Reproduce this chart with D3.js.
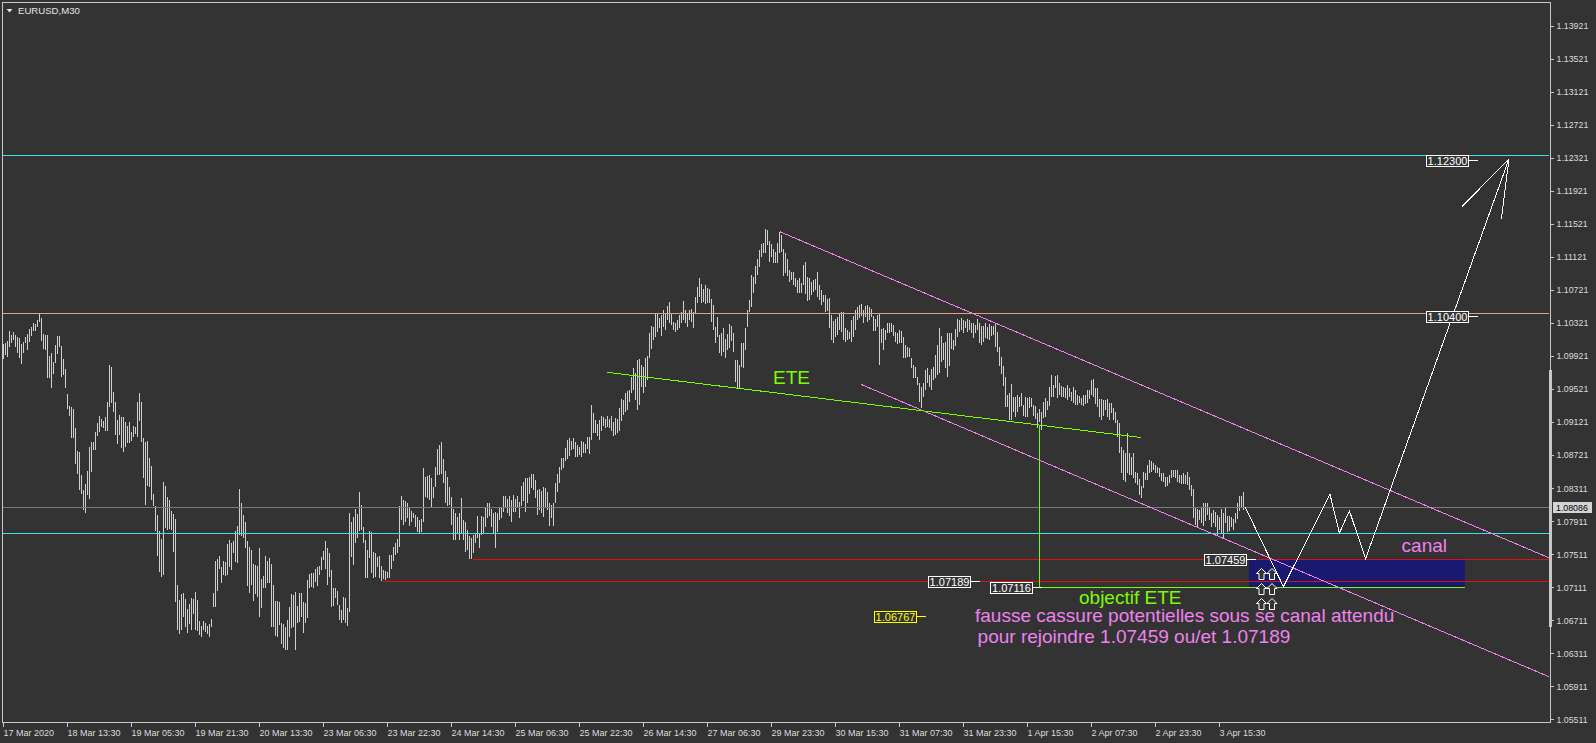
<!DOCTYPE html>
<html><head><meta charset="utf-8">
<script src="https://cdn.jsdelivr.net/npm/d3@7"></script>
<style>
html,body{margin:0;padding:0;background:#333333;overflow:hidden}
svg{display:block}
</style></head><body>
<svg id="c" width="1596" height="743"></svg>
<script>
// ---------------- DATA (EURUSD M30) ----------------
const symbolTitle = "EURUSD,M30";
const highs = [
1.1006,1.1008,1.1010,1.1022,1.1017,1.1021,1.1017,1.1015,1.1014,1.1006,1.1009,1.1015,1.1018,1.1025,1.1027,1.1032,1.1031,1.1035,1.1044,1.1038,
1.1018,1.1017,1.1017,1.0992,1.0995,1.0984,1.1005,1.1016,1.1016,1.1004,1.0988,1.0976,1.0946,1.0931,1.0930,1.0928,1.0904,1.0876,1.0875,1.0847,
1.0829,1.0836,1.0852,1.0881,1.0887,1.0887,1.0900,1.0910,1.0919,1.0915,1.0913,1.0918,1.0936,1.0981,1.0978,1.0948,1.0936,1.0914,1.0920,1.0918,
1.0918,1.0912,1.0907,1.0912,1.0900,1.0907,1.0906,1.0936,1.0947,1.0936,1.0892,1.0887,1.0889,1.0868,1.0858,1.0825,1.0810,1.0799,1.0779,1.0770,
1.0839,1.0834,1.0821,1.0817,1.0804,1.0800,1.0794,1.0714,1.0696,1.0703,1.0704,1.0697,1.0685,1.0691,1.0698,1.0697,1.0705,1.0696,1.0670,1.0664,
1.0670,1.0668,1.0664,1.0667,1.0673,1.0704,1.0743,1.0745,1.0749,1.0736,1.0743,1.0742,1.0764,1.0768,1.0765,1.0767,1.0779,1.0785,1.0830,1.0813,
1.0799,1.0790,1.0767,1.0760,1.0756,1.0739,1.0738,1.0737,1.0759,1.0721,1.0725,1.0749,1.0743,1.0747,1.0739,1.0714,1.0694,1.0694,1.0693,1.0668,
1.0667,1.0663,1.0671,1.0687,1.0703,1.0702,1.0705,1.0688,1.0704,1.0704,1.0693,1.0692,1.0720,1.0727,1.0728,1.0728,1.0733,1.0736,1.0737,1.0748,
1.0755,1.0767,1.0759,1.0753,1.0732,1.0710,1.0710,1.0707,1.0690,1.0684,1.0699,1.0698,1.0686,1.0801,1.0790,1.0796,1.0806,1.0800,1.0827,1.0811,
1.0784,1.0768,1.0756,1.0779,1.0778,1.0754,1.0753,1.0748,1.0749,1.0737,1.0732,1.0731,1.0730,1.0751,1.0751,1.0760,1.0765,1.0770,1.0810,
1.0822,1.0817,1.0816,1.0813,1.0809,1.0804,1.0801,1.0799,1.0796,1.0793,1.0794,1.0856,1.0845,1.0846,1.0847,1.0844,1.0833,1.0857,1.0879,1.0884,
1.0887,1.0867,1.0852,1.0845,1.0833,1.0821,1.0806,1.0801,1.0796,1.0801,1.0819,1.0793,1.0790,1.0781,1.0773,1.0771,1.0775,1.0776,1.0798,1.0777,
1.0798,1.0796,1.0809,1.0813,1.0813,1.0806,1.0801,1.0802,1.0801,1.0809,1.0807,1.0822,1.0822,1.0818,1.0822,1.0817,1.0823,1.0818,1.0822,1.0815,
1.0834,1.0839,1.0844,1.0844,1.0845,1.0849,1.0849,1.0841,1.0829,1.0830,1.0828,1.0833,1.0832,1.0827,1.0813,1.0811,1.0813,1.0838,1.0849,1.0857,
1.0868,1.0868,1.0880,1.0890,1.0892,1.0889,1.0892,1.0887,1.0884,1.0881,1.0889,1.0887,1.0885,1.0893,1.0893,1.0932,1.0923,1.0914,1.0909,1.0914,
1.0919,1.0918,1.0915,1.0919,1.0915,1.0919,1.0912,1.0917,1.0915,1.0929,1.0940,1.0938,1.0947,1.0949,1.0950,1.0966,1.0977,1.0971,1.0987,1.0988,
1.0981,1.0978,1.0989,1.0992,1.1020,1.1028,1.1027,1.1044,1.1043,1.1038,1.1042,1.1048,1.1043,1.1052,1.1057,1.1044,1.1033,1.1032,1.1035,1.1042,
1.1045,1.1059,1.1048,1.1043,1.1048,1.1049,1.1045,1.1063,1.1075,1.1086,1.1079,1.1073,1.1078,1.1074,1.1073,1.1061,1.1054,1.1027,1.1039,1.1017,
1.1020,1.1026,1.1012,1.1018,1.1031,1.1028,1.1020,1.0987,1.0987,1.0981,1.1008,1.1008,1.1026,1.1048,1.1060,1.1090,1.1088,1.1101,1.1109,1.1120,
1.1128,1.1129,1.1146,1.1145,1.1131,1.1128,1.1122,1.1118,1.1129,1.1142,1.1139,1.1122,1.1117,1.1109,1.1096,1.1094,1.1094,1.1086,1.1084,1.1086,
1.1080,1.1102,1.1106,1.1088,1.1086,1.1082,1.1084,1.1085,1.1094,1.1078,1.1072,1.1066,1.1066,1.1061,1.1062,1.1042,1.1034,1.1037,1.1039,1.1043,
1.1045,1.1045,1.1026,1.1023,1.1021,
1.1035,1.1040,1.1048,1.1051,1.1054,1.1055,1.1048,1.1052,1.1054,1.1051,1.1049,1.1040,1.1037,1.1042,1.1043,1.1024,1.1026,1.1023,1.1032,1.1032,
1.1032,1.1029,1.1021,1.1020,1.1023,1.1022,1.1015,1.1005,1.1003,1.1002,1.0989,1.0981,1.0978,1.0966,1.0959,1.0954,1.0959,1.0975,1.0977,1.0969,
1.0976,1.0978,1.0993,1.1005,1.1026,1.1016,1.1008,1.1009,1.1020,1.1020,1.1020,1.1011,1.1024,1.1037,1.1035,1.1038,1.1035,1.1034,1.1037,1.1035,
1.1032,1.1032,1.1029,1.1037,1.1032,1.1028,1.1028,1.1032,1.1027,1.1031,1.1028,1.1028,1.1032,1.1021,1.1003,1.0991,1.0980,1.0966,1.0944,1.0947,
1.0958,1.0942,1.0942,1.0944,1.0942,1.0947,1.0932,1.0942,1.0941,1.0942,1.0941,1.0932,1.0931,1.0923,1.0928,1.0924,1.0936,1.0941,1.0937,1.0954,
1.0969,1.0957,1.0968,1.0969,1.0959,1.0955,1.0954,1.0953,1.0957,1.0953,1.0948,1.0954,1.0950,1.0944,1.0943,1.0941,1.0944,1.0944,1.0950,1.0951,
1.0963,1.0964,1.0953,1.0953,1.0940,1.0940,1.0938,1.0938,1.0940,1.0935,1.0935,1.0929,1.0924,1.0914,1.0910,1.0881,1.0878,1.0874,1.0898,1.0874,
1.0869,1.0874,1.0851,1.0850,1.0842,1.0834,1.0851,1.0850,1.0859,1.0866,1.0864,1.0862,1.0859,1.0857,1.0856,1.0850,1.0850,1.0845,1.0845,1.0847,
1.0854,1.0854,1.0853,1.0853,1.0847,1.0847,1.0850,1.0847,1.0851,1.0845,1.0835,1.0830,1.0807,1.0806,1.0805,1.0809,1.0813,1.0813,1.0813,1.0807,
1.0801,1.0805,1.0802,1.0799,1.0796,1.0806,1.0801,1.0809,1.0798,1.0798,1.0796,1.0794,1.0801,1.0813,1.0822,1.0822,1.0827
];
const lows = [
1.0988,1.0993,1.0991,1.1003,1.1008,1.1011,1.1003,1.0995,1.0989,1.0982,1.0995,1.1008,1.0999,1.1009,1.1016,1.1022,1.1022,1.1027,1.1033,1.1010,
1.1000,1.0999,1.0965,1.0965,1.0953,1.0970,1.0983,1.0994,1.1003,1.0966,1.0969,1.0953,1.0927,1.0919,1.0892,1.0892,1.0861,1.0849,1.0829,1.0825,
1.0805,1.0801,1.0823,1.0818,1.0851,1.0878,1.0878,1.0895,1.0900,1.0906,1.0904,1.0901,1.0901,1.0930,1.0935,1.0924,1.0896,1.0885,1.0896,1.0880,
1.0875,1.0881,1.0886,1.0886,1.0889,1.0893,1.0897,1.0893,1.0913,1.0887,1.0844,1.0811,1.0834,1.0833,1.0817,1.0810,1.0779,1.0749,1.0730,1.0724,
1.0726,1.0783,1.0781,1.0782,1.0781,1.0754,1.0693,1.0659,1.0654,1.0659,1.0675,1.0663,1.0656,1.0667,1.0659,1.0679,1.0659,1.0658,1.0653,1.0651,
1.0659,1.0657,1.0654,1.0651,1.0663,1.0687,1.0687,1.0707,1.0733,1.0716,1.0726,1.0725,1.0726,1.0736,1.0732,1.0753,1.0742,1.0741,1.0775,1.0773,
1.0771,1.0759,1.0713,1.0704,1.0714,1.0694,1.0703,1.0699,1.0675,1.0686,1.0710,1.0710,1.0716,1.0716,1.0663,1.0663,1.0652,1.0651,1.0665,1.0643,
1.0637,1.0635,1.0635,1.0651,1.0662,1.0663,1.0635,1.0668,1.0669,1.0675,1.0656,1.0668,1.0674,1.0710,1.0711,1.0710,1.0718,1.0713,1.0726,1.0732,
1.0744,1.0734,1.0714,1.0724,1.0687,1.0688,1.0698,1.0690,1.0671,1.0668,1.0671,1.0668,1.0664,1.0681,1.0748,1.0738,1.0765,1.0771,1.0779,1.0781,
1.0765,1.0722,1.0722,1.0747,1.0728,1.0722,1.0724,1.0736,1.0722,1.0719,1.0721,1.0720,1.0722,1.0722,1.0733,1.0743,1.0750,1.0753,1.0760,
1.0793,1.0787,1.0790,1.0795,1.0785,1.0790,1.0795,1.0784,1.0778,1.0776,1.0778,1.0790,1.0821,1.0819,1.0817,1.0807,1.0819,1.0833,1.0847,1.0847,
1.0849,1.0838,1.0813,1.0810,1.0811,1.0787,1.0768,1.0768,1.0777,1.0768,1.0777,1.0768,1.0754,1.0756,1.0746,1.0746,1.0753,1.0765,1.0771,1.0759,
1.0775,1.0777,1.0784,1.0795,1.0798,1.0784,1.0777,1.0759,1.0778,1.0793,1.0795,1.0802,1.0807,1.0801,1.0798,1.0790,1.0802,1.0802,1.0807,1.0795,
1.0810,1.0816,1.0802,1.0813,1.0825,1.0832,1.0829,1.0819,1.0799,1.0805,1.0801,1.0796,1.0809,1.0805,1.0785,1.0795,1.0785,1.0813,1.0827,1.0838,
1.0853,1.0856,1.0864,1.0867,1.0870,1.0878,1.0879,1.0869,1.0869,1.0872,1.0869,1.0874,1.0874,1.0879,1.0873,1.0890,1.0898,1.0898,1.0895,1.0890,
1.0901,1.0907,1.0904,1.0906,1.0904,1.0901,1.0895,1.0896,1.0898,1.0901,1.0913,1.0920,1.0924,1.0926,1.0936,1.0947,1.0950,1.0938,1.0926,1.0932,
1.0954,1.0947,1.0954,1.0963,1.0989,1.1000,1.1011,1.1015,1.1021,1.1026,1.1016,1.1027,1.1023,1.1035,1.1032,1.1029,1.1023,1.1021,1.1023,1.1026,
1.1032,1.1035,1.1032,1.1027,1.1035,1.1033,1.1026,1.1044,1.1056,1.1063,1.1056,1.1057,1.1055,1.1056,1.1056,1.1033,1.1023,1.1008,1.1015,1.0995,
1.0992,1.0997,1.0989,1.0999,1.1001,1.1010,1.0997,1.0960,1.0953,1.0953,1.0978,1.0977,1.0999,1.1027,1.1045,1.1051,1.1068,1.1079,1.1090,1.1100,
1.1112,1.1117,1.1117,1.1126,1.1106,1.1112,1.1105,1.1105,1.1105,1.1117,1.1118,1.1089,1.1092,1.1089,1.1082,1.1084,1.1078,1.1075,1.1068,1.1068,
1.1068,1.1078,1.1067,1.1059,1.1060,1.1066,1.1069,1.1072,1.1063,1.1060,1.1054,1.1057,1.1045,1.1046,1.1026,1.1011,1.1008,1.1015,1.1017,1.1023,
1.1021,1.1011,1.1009,1.1011,1.1012,
1.1009,1.1015,1.1023,1.1035,1.1038,1.1040,1.1032,1.1039,1.1033,1.1035,1.1039,1.1022,1.1022,1.1027,1.0981,1.1008,1.0999,1.1011,1.1020,1.1020,
1.1021,1.1016,1.1009,1.1006,1.1008,1.1008,1.0989,1.0989,1.0991,1.0991,1.0977,1.0965,1.0965,1.0957,1.0936,1.0929,1.0942,1.0950,1.0959,1.0954,
1.0950,1.0963,1.0965,1.0969,1.0971,1.0985,1.0987,1.0977,1.0966,1.0980,1.1000,1.0999,1.1004,1.1015,1.1021,1.1023,1.1020,1.1026,1.1021,1.1023,
1.1020,1.1014,1.1020,1.1023,1.1008,1.1005,1.1009,1.1014,1.1013,1.1011,1.1016,1.1017,1.1003,1.0997,1.0980,1.0970,1.0955,1.0930,1.0930,1.0914,
1.0914,1.0924,1.0918,1.0924,1.0930,1.0931,1.0919,1.0918,1.0918,1.0929,1.0930,1.0919,1.0915,1.0904,1.0912,1.0902,1.0917,1.0918,1.0926,1.0931,
1.0942,1.0942,1.0953,1.0941,1.0944,1.0942,1.0942,1.0941,1.0938,1.0942,1.0937,1.0935,1.0932,1.0932,1.0935,1.0932,1.0931,1.0933,1.0935,1.0940,
1.0944,1.0942,1.0934,1.0930,1.0918,1.0914,1.0919,1.0926,1.0918,1.0914,1.0923,1.0914,1.0910,1.0893,1.0874,1.0850,1.0841,1.0839,1.0850,1.0847,
1.0847,1.0844,1.0838,1.0835,1.0823,1.0819,1.0832,1.0841,1.0841,1.0850,1.0851,1.0853,1.0850,1.0850,1.0845,1.0840,1.0839,1.0833,1.0834,1.0838,
1.0844,1.0845,1.0844,1.0839,1.0838,1.0836,1.0836,1.0836,1.0835,1.0829,1.0822,1.0795,1.0787,1.0784,1.0793,1.0789,1.0785,1.0792,1.0799,1.0793,
1.0784,1.0789,1.0784,1.0775,1.0781,1.0777,1.0771,1.0789,1.0778,1.0780,1.0784,1.0781,1.0789,1.0794,1.0804,1.0809,1.0805
];
const timeLabels = ["17 Mar 2020","18 Mar 13:30","19 Mar 05:30","19 Mar 21:30","20 Mar 13:30","23 Mar 06:30","23 Mar 22:30","24 Mar 14:30","25 Mar 06:30","25 Mar 22:30",
  "26 Mar 14:30","27 Mar 06:30","29 Mar 23:30","30 Mar 15:30","31 Mar 07:30","31 Mar 23:30","1 Apr 15:30","2 Apr 07:30","2 Apr 23:30","3 Apr 15:30"];
const timeLabelBars = [0,32,64,96,128,160,192,224,256,288,320,352,384,416,448,480,512,544,576,608];
const priceTicks = [1.13921,1.13521,1.13121,1.12721,1.12321,1.11921,1.11521,1.11121,1.10721,1.10321,1.09921,1.09521,1.09121,1.08721,1.08311,1.07911,1.07511,1.07111,1.06711,1.06311,1.05911,1.05511];
const currentPrice = 1.08086;
// horizontal levels
const cyanLevels = [1.12356, 1.07767];
const orangeLevels = [1.10436];
const redLevels = [1.07459, 1.07189];
const redLevelStartBars = [235, 189.5];
// ETE (head & shoulders) neckline and target
const neckline = [[302.2, 1.0972], [568.9, 1.0893]];
const eteBar = 518.2;
const eteTarget = 1.07116;
const eteTargetEndBar = 731;
// channel
const channelUpper = [[388.5, 1.11425], [773, 1.0747]];
const channelLower = [[429, 1.09574], [773, 1.06027]];
// expected path
const pathPoints = [[621, 1.0809], [640.2, 1.0712], [663.5, 1.0824], [668.2, 1.0777], [673.2, 1.0804], [681.3, 1.0746], [753, 1.1231]];
const arrowBarbs = [[[729.5, 1.1173], [753, 1.1231]], [[749.2, 1.1158], [753, 1.1231]]];
// zone
const zoneBars = [623, 731];
const zonePrices = [1.07459, 1.07116];
// up arrows
const upArrowBars = [629.25, 634.5];
const upArrowPrices = [1.07346, 1.07170, 1.06982];
// price label objects
const labelPrices = [1.12300, 1.10400, 1.07459, 1.07189, 1.07116, 1.06767];
const labelBars = [737.5, 737.5, 626.5, 488.5, 519.3, 461.5];
const labelIsYellow = [false, false, false, false, false, true];
// texts
const texts = ["ETE", "canal", "objectif ETE", "fausse cassure potentielles sous se canal attendu", "pour rejoindre 1.07459 ou/et 1.07189"];
const textBars = [385, 699.3, 538, 486, 487.3];
const textPrices = [1.09578, 1.07536, 1.06909, 1.0669, 1.0644];
const textIsGreen = [true, false, true, false, false];

// ---------------- DRAWING ----------------
const FONT = "'Liberation Sans', Arial, sans-serif";
const svg = d3.select("#c");
const L = 3, R = 1549, T = 3, B = 722;
const x = d3.scaleLinear().domain([0, 773]).range([3, 1549]);
const y = d3.scaleLinear().domain([1.05511, 1.13921]).range([719.3, 26]);
const cr = v => Math.round(v) + 0.5;

svg.append("rect").attr("width", 1596).attr("height", 743).attr("fill", "#333333");
svg.append("defs").append("clipPath").attr("id", "clip")
  .append("rect").attr("x", L).attr("y", T).attr("width", R - L).attr("height", B - T);

const plot = svg.append("g").attr("clip-path", "url(#clip)");

// zone (background object)
plot.append("rect")
  .attr("x", x(zoneBars[0])).attr("width", x(zoneBars[1]) - x(zoneBars[0]))
  .attr("y", y(zonePrices[0])).attr("height", y(zonePrices[1]) - y(zonePrices[0]))
  .attr("fill", "#191970");

// bars
const bars = highs.map((h, i) => ({ i, h, l: lows[i] }));
plot.append("g").selectAll("rect").data(bars).join("rect")
  .attr("x", d => x(d.i)).attr("width", 1)
  .attr("y", d => Math.round(y(d.h)))
  .attr("height", d => Math.max(1, Math.round(y(d.l)) - Math.round(y(d.h))))
  .attr("fill", "#d0d0d0");

// horizontal lines
function hline(p, x0, color) {
  plot.append("line").attr("x1", x0).attr("x2", R).attr("y1", cr(y(p))).attr("y2", cr(y(p)))
    .attr("stroke", color).attr("stroke-width", 1).attr("shape-rendering", "crispEdges");
}
hline(currentPrice, L, "#7a7a7a");
cyanLevels.forEach(p => hline(p, L, "#33e3e6"));
orangeLevels.forEach(p => hline(p, L, "#e8a070"));
redLevels.forEach((p, k) => hline(p, x(redLevelStartBars[k]), "#e01010"));

// trend lines
function seg(a, b, color) {
  plot.append("line").attr("x1", x(a[0])).attr("y1", y(a[1])).attr("x2", x(b[0])).attr("y2", y(b[1]))
    .attr("stroke", color).attr("stroke-width", 1).attr("shape-rendering", "crispEdges");
}
seg(channelUpper[0], channelUpper[1], "#ee82ee");
seg(channelLower[0], channelLower[1], "#ee82ee");
seg(neckline[0], neckline[1], "#7cfc00");
// ETE vertical + target line
const neckAt = b => neckline[0][1] + (b - neckline[0][0]) * (neckline[1][1] - neckline[0][1]) / (neckline[1][0] - neckline[0][0]);
plot.append("line").attr("x1", cr(x(eteBar))).attr("x2", cr(x(eteBar))).attr("y1", y(neckAt(eteBar))).attr("y2", cr(y(eteTarget)))
  .attr("stroke", "#7cfc00").attr("shape-rendering", "crispEdges");
plot.append("line").attr("x1", x(eteBar)).attr("x2", x(eteTargetEndBar)).attr("y1", cr(y(eteTarget))).attr("y2", cr(y(eteTarget)))
  .attr("stroke", "#7cfc00").attr("shape-rendering", "crispEdges");

// expected path
const lineGen = d3.line().x(d => x(d[0])).y(d => y(d[1]));
plot.append("path").attr("d", lineGen(pathPoints)).attr("fill", "none").attr("stroke", "#ffffff")
  .attr("stroke-width", 1).attr("shape-rendering", "crispEdges");
arrowBarbs.forEach(b => plot.append("path").attr("d", lineGen(b)).attr("fill", "none")
  .attr("stroke", "#ffffff").attr("shape-rendering", "crispEdges"));

// up arrows
upArrowPrices.forEach(p => upArrowBars.forEach(b => {
  const cx = x(b), t = Math.round(y(p)) + 0.5;
  const d = `M${cx - 5},${t + 5} L${cx},${t} L${cx + 5},${t + 5} L${cx + 2.5},${t + 5} L${cx + 2.5},${t + 11} L${cx - 2.5},${t + 11} L${cx - 2.5},${t + 5} Z`;
  plot.append("path").attr("d", d).attr("fill", "#333333").attr("stroke", "#ffffff").attr("stroke-width", 1);
}));

// price label objects
labelPrices.forEach((p, k) => {
  const ax = x(labelBars[k]), ay = cr(y(p));
  const col = labelIsYellow[k] ? "#ffff00" : "#ffffff";
  const bx = Math.round(ax - 10 - 42) + 0.5;
  plot.append("line").attr("x1", ax - 10).attr("x2", ax).attr("y1", ay).attr("y2", ay).attr("stroke", col)
    .attr("shape-rendering", "crispEdges");
  plot.append("rect").attr("x", bx).attr("y", Math.round(ay - 6) + 0.5).attr("width", 42).attr("height", 11)
    .attr("fill", "#333333").attr("stroke", col).attr("shape-rendering", "crispEdges");
  plot.append("text").attr("x", bx + 21).attr("y", ay + 4).attr("text-anchor", "middle")
    .attr("font-family", FONT).attr("font-size", 11).attr("fill", col).text(d3.format(".5f")(p));
});

// texts
texts.forEach((t, k) => {
  plot.append("text").attr("x", x(textBars[k])).attr("y", y(textPrices[k]))
    .attr("font-family", FONT).attr("font-size", 19)
    .attr("fill", textIsGreen[k] ? "#7cfc00" : "#ee82ee").text(t);
});

// frame
svg.append("path").attr("d", `M2.5,${B + 0.5} L2.5,2.5 L1550.5,2.5 L1550.5,${B + 0.5} Z`)
  .attr("fill", "none").attr("stroke", "#c8c8c8").attr("shape-rendering", "crispEdges");
svg.append("rect").attr("x", 1549).attr("y", 370).attr("width", 3).attr("height", 257).attr("fill", "#c8c8c8");

// right price axis
const yAxis = d3.axisRight(y).tickValues(priceTicks).tickFormat(d3.format(".5f")).tickSize(3).tickPadding(3);
const gy = svg.append("g").attr("transform", "translate(1550.5,0)").call(yAxis);
gy.select(".domain").remove();
gy.selectAll(".tick line").attr("stroke", "#c8c8c8").attr("shape-rendering", "crispEdges");
gy.selectAll(".tick text").attr("fill", "#dcdcdc").attr("font-family", FONT).attr("font-size", 8.8);

// current price tag
svg.append("rect").attr("x", 1553).attr("y", Math.round(y(currentPrice)) - 5).attr("width", 39).attr("height", 11).attr("fill", "#d4d4d4");
svg.append("text").attr("x", 1556).attr("y", y(currentPrice) + 3.5).attr("font-family", FONT).attr("font-size", 8.8)
  .attr("fill", "#000").text(d3.format(".5f")(currentPrice));

// bottom time axis
const xAxis = d3.axisBottom(x).tickValues(timeLabelBars).tickFormat((d, i) => timeLabels[i]).tickSize(4).tickPadding(3);
const gx = svg.append("g").attr("transform", `translate(0,${B + 0.5})`).call(xAxis);
gx.select(".domain").remove();
gx.selectAll(".tick line").attr("stroke", "#c8c8c8").attr("shape-rendering", "crispEdges");
gx.selectAll(".tick text").attr("fill", "#dcdcdc").attr("font-family", FONT).attr("font-size", 9)
  .attr("text-anchor", "start").attr("x", 0);

// title
svg.append("path").attr("d", "M6.5,9 L12.5,9 L9.5,12.5 Z").attr("fill", "#e6e6e6");
svg.append("text").attr("x", 18).attr("y", 14).attr("font-family", FONT).attr("font-size", 9.6)
  .attr("fill", "#e6e6e6").text(symbolTitle);
</script>
</body></html>
